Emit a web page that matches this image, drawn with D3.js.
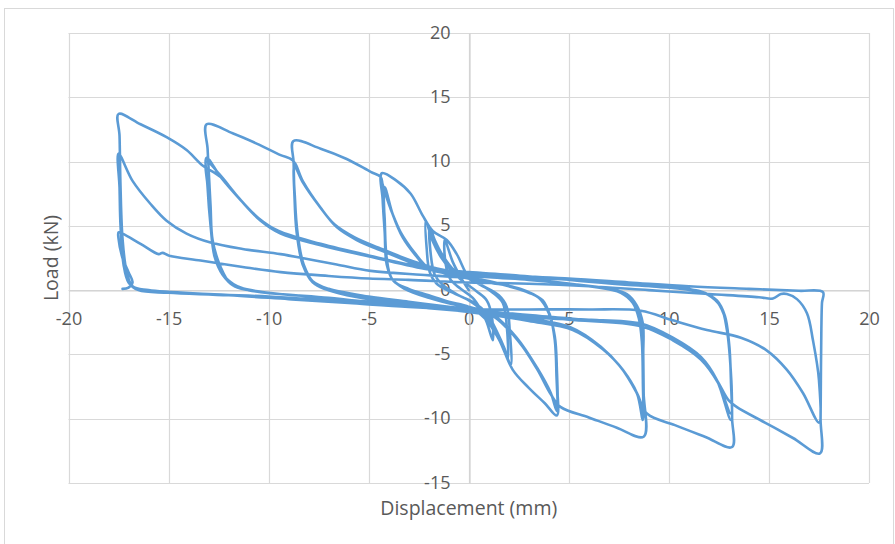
<!DOCTYPE html>
<html><head><meta charset="utf-8">
<script src="https://cdn.jsdelivr.net/npm/d3@7"></script>
<style>body{margin:0;background:#fff;}svg{display:block;}</style>
</head><body>
<svg id="chart" width="895" height="544"></svg>
<script>
const xTicks = [-20,-15,-10,-5,0,5,10,15,20];
const yTicks = [-15,-10,-5,0,5,10,15,20];
const xTitle = "Displacement (mm)";
const yTitle = "Load (kN)";

// Displacement (mm), Load (kN), in loading order
const smallCycles = [
[0,0],[-0.4,1.0],[-0.8,2.2],[-1.2,3.9],[-1.15,2.0],[-0.9,0.8],[-0.4,0.1],[0.2,-0.6],[0.6,-1.5],[0.9,-2.5],[1.2,-3.9],[1.15,-2.0],[0.9,-0.8],[0.4,-0.1],[-0.3,0.7],
[-0.8,1.4],[-1.4,2.6],[-1.8,3.8],[-2.15,5.4],[-2.1,3.2],[-1.95,1.4],[-1.6,0.5],[-0.8,-0.2],[0,-0.8],[0.6,-1.5],[1.2,-2.8],[1.7,-4.3],[2.1,-5.8],[2.05,-3.2],[1.9,-1.3],[1.5,-0.4],[0.6,0.4],[0,0.9],
[-0.7,1.5],[-1.3,2.7],[-1.7,3.9],[-1.95,4.9],[-1.9,2.8],[-1.7,1.2],[-1.3,0.4],[-0.5,-0.4],[0.3,-1.0],[0.9,-1.8],[1.4,-3.2],[1.8,-4.6],[1.95,-5.3],[1.9,-2.8],[1.7,-1.0],[1.2,-0.2],[0.5,0.5],[0,1.0]
];
const cycles4mm = [
[-0.6,2.8],[-1.1,3.9],[-1.8,4.6],[-2.3,5.8],[-2.9,7.5],[-3.6,8.5],[-4.34,9.1],[-4.3,7.0],[-4.2,4.5],[-4.1,2.0],[-3.75,0.7],[-3.0,0.1],[-2.0,-0.4],[-1.0,-0.9],[0,-1.3],
[0.8,-2.2],[1.5,-3.8],[2.2,-6.2],[3.0,-7.6],[3.8,-8.8],[4.4,-9.75],[4.42,-7.5],[4.35,-5.0],[4.3,-3.9],[4.1,-2.2],[3.7,-0.8],[3.0,-0.2],[2.0,0.3],[1.0,0.7],[0,1.0],[-1.0,1.4],
[-2.1,1.8],[-2.6,2.6],[-3.3,4.1],[-3.8,5.9],[-4.2,8.0],[-4.2,5.0],[-4.1,2.2],[-3.8,0.8],[-3.0,0.0],[-2.0,-0.5],[-1.0,-0.9],[0,-1.3],[0.6,-1.6],
[1.2,-1.9],[2.4,-3.7],[3.4,-6.0],[4.1,-8.0],[4.4,-9.4],[4.4,-6.0],[4.3,-3.6],[4.0,-1.8],[3.5,-0.6],[2.5,0.1],[1.5,0.5],[0,0.9],[-1.2,1.3],
[-2.0,1.7],[-2.7,2.9],[-3.4,4.5],[-3.9,6.3],[-4.25,7.7],[-4.2,5.5],[-4.1,2.5],[-3.85,0.9],[-3.2,0.1],[-2.0,-0.6],[-0.5,-1.2],[0.5,-1.5],
[1.3,-2.1],[2.5,-4.0],[3.5,-6.3],[4.15,-8.2],[4.4,-9.2],[4.38,-6.5],[4.3,-3.8],[4.05,-1.9],[3.6,-0.7],[2.6,0.1],[1.0,0.6],[0,0.9]
];
const cycles9mm = [
[-1.0,1.3],[-2.1,1.8],[-2.6,2.6],[-3.3,4.1],[-3.8,5.9],[-4.3,8.2],[-4.4,8.8],[-4.9,9.2],[-6.1,10.2],[-7.4,11.0],[-8.76,11.6],[-8.75,9.9],[-8.7,7.0],[-8.6,4.6],[-8.3,2.0],[-7.8,0.7],[-7.0,0.1],[-5.0,-0.5],[-3.0,-0.9],[-1.0,-1.3],[0.5,-1.6],
[1.2,-2.0],[2.4,-3.8],[3.4,-6.1],[4.1,-8.1],[4.6,-9.1],[6.0,-9.9],[7.4,-10.7],[8.74,-11.4],[8.74,-8.0],[8.72,-5.0],[8.7,-2.6],[8.4,-1.2],[7.9,-0.3],[7.0,0.1],[5.0,0.5],[3.0,0.8],[1.0,1.0],[-1.0,1.3],
[-2.2,1.9],[-3.3,2.5],[-4.4,3.1],[-5.6,3.9],[-6.6,4.9],[-7.4,6.4],[-8.3,8.5],[-8.7,9.9],[-8.7,7.0],[-8.6,4.5],[-8.3,2.0],[-7.8,0.6],[-7.0,0.0],[-5.0,-0.6],[-3.0,-1.0],[-1.0,-1.4],[1.0,-1.8],[3.0,-2.3],
[5.1,-2.9],[6.6,-4.4],[7.6,-6.0],[8.4,-8.0],[8.7,-10.1],[8.7,-7.0],[8.68,-4.5],[8.6,-2.5],[8.3,-1.1],[7.8,-0.3],[7.0,0.1],[5.0,0.5],[3.0,0.9],[1.0,1.2],[-1.0,1.5],
[-2.3,2.0],[-3.4,2.6],[-4.5,3.3],[-5.7,4.1],[-6.7,5.1],[-7.5,6.6],[-8.3,8.4],[-8.7,9.6],[-8.68,7.0],[-8.55,4.4],[-8.25,2.0],[-7.7,0.5],[-6.8,-0.1],[-5.0,-0.7],[-3.0,-1.1],[-1.0,-1.5],[1.0,-1.9],[3.0,-2.4],
[5.2,-3.1],[6.7,-4.6],[7.7,-6.2],[8.45,-8.2],[8.7,-9.8],[8.7,-7.0],[8.65,-4.0],[8.5,-2.2],[8.2,-1.0],[7.6,-0.2],[6.0,0.3],[4.0,0.7],[2.0,1.0],[0,1.3],[-2.0,1.6]
];
const cycles13mm = [
[-3.3,2.4],[-4.4,3.1],[-5.6,3.9],[-6.6,4.9],[-7.4,6.4],[-8.3,8.5],[-8.8,10.1],[-9.4,10.5],[-10.6,11.4],[-11.8,12.2],[-13.1,12.9],[-13.05,11.0],[-13.0,9.5],[-12.9,6.5],[-12.8,3.9],[-12.4,1.8],[-11.9,0.5],[-11.0,0.0],[-8.0,-0.5],[-5.0,-0.9],[-2.0,-1.3],[1.0,-1.7],[3.0,-2.2],
[5.1,-2.9],[6.6,-4.4],[7.6,-6.0],[8.4,-8.0],[8.9,-9.6],[10.3,-10.5],[11.8,-11.4],[13.16,-12.2],[13.16,-10.0],[13.12,-7.0],[12.9,-3.1],[12.6,-1.3],[11.9,-0.3],[11.0,0.1],[8.0,0.4],[5.0,0.8],[2.0,1.2],[0,1.4],[-2.0,1.7],
[-4.9,2.6],[-7.4,3.5],[-9.4,4.4],[-10.4,5.4],[-11.4,7.0],[-12.4,8.8],[-13.1,10.3],[-13.05,8.0],[-12.9,5.0],[-12.7,2.6],[-12.3,1.2],[-11.7,0.3],[-10.5,-0.1],[-8.0,-0.5],[-5.0,-1.0],[-2.0,-1.4],[1.0,-1.8],[4.0,-2.2],[6.0,-2.3],
[8.6,-2.6],[10.2,-3.7],[11.6,-5.2],[12.4,-7.0],[13.1,-10.1],[13.1,-7.0],[13.0,-4.0],[12.8,-2.0],[12.4,-0.8],[11.7,-0.2],[10.0,0.2],[7.0,0.6],[4.0,0.9],[1.0,1.3],[-2.0,1.7],
[-5.0,2.7],[-7.4,3.6],[-9.5,4.6],[-10.5,5.6],[-11.5,7.2],[-12.45,9.0],[-13.1,10.0],[-13.0,7.5],[-12.85,4.5],[-12.6,2.2],[-12.1,0.9],[-11.4,0.2],[-10.0,-0.2],[-7.0,-0.6],[-4.0,-1.1],[-1.0,-1.5],[2.0,-1.9],[5.0,-2.3],
[8.6,-2.8],[10.2,-3.9],[11.6,-5.4],[12.45,-7.2],[13.1,-9.6],[13.1,-7.0],[13.0,-4.0],[12.75,-1.9],[12.3,-0.7],[11.6,-0.1],[9.0,0.3],[6.0,0.7],[3.0,1.0],[0,1.3],[-2.0,1.6]
];
const cycles18mm = [
[-4.9,2.6],[-7.4,3.5],[-9.4,4.4],[-10.4,5.4],[-11.4,7.0],[-12.4,8.8],[-13.3,9.7],[-14.1,10.9],[-15.1,11.9],[-16.4,12.9],[-17.5,13.7],[-17.45,12.0],[-17.4,8.0],[-17.3,4.0],[-17.1,1.5],[-16.8,0.3],[-16.0,0.0],[-13.0,-0.3],[-10.0,-0.5],[-7.0,-0.8],[-4.0,-1.1],[-1.0,-1.4],[2.0,-1.8],[5.0,-2.2],[7.0,-2.4],
[8.6,-2.6],[10.2,-3.7],[11.6,-5.2],[12.4,-7.0],[13.0,-8.6],[13.4,-9.1],[14.8,-10.3],[16.2,-11.5],[17.55,-12.7],[17.58,-10.0],[17.6,-6.0],[17.62,-3.0],[17.65,-1.0],[17.7,-0.15],[16.5,-0.05],[14.0,0.1],[11.0,0.3],[8.0,0.6],[5.0,0.9],[2.0,1.1],
[0,1.0],[-2.4,1.2],[-4.9,1.5],[-6.6,2.0],[-8.0,2.4],[-9.4,2.8],[-11.3,3.2],[-12.9,3.7],[-14.1,4.4],[-15.1,5.4],[-15.9,6.7],[-16.8,8.5],[-17.5,10.6],[-17.45,8.0],[-17.4,5.0],[-17.25,2.0],[-17.0,0.6],[-16.5,0.0],[-15.0,-0.2],[-12.0,-0.4],[-9.0,-0.7],[-6.0,-1.0],[-3.0,-1.3],[0,-1.5],[3.0,-1.5],[6.0,-1.5],
[8.6,-1.6],[10.2,-2.35],[11.9,-3.1],[13.6,-3.7],[14.9,-4.7],[15.9,-6.2],[16.7,-8.0],[17.5,-10.3],[17.5,-7.0],[17.2,-3.9],[16.9,-1.8],[16.4,-0.7],[15.9,-0.3],[15.6,-0.3],[15.2,-0.65],[14.5,-0.55],[12.0,-0.3],[9.0,0.0],[6.0,0.3],[3.0,0.5],[0,0.6],[-3.0,0.8],
[-5.0,0.9],[-7.0,1.1],[-9.4,1.4],[-11.3,1.8],[-13.4,2.3],[-15.0,2.7],[-15.3,2.9],[-15.5,2.8],[-16.4,3.6],[-17.3,4.4],[-17.5,4.5],[-17.5,4.0],[-17.3,2.5],[-17.0,1.4],[-16.8,0.6],[-17.0,0.2],[-17.3,0.1]
];

const W = 895, H = 544;
const plot = {left: 68.5, right: 869, top: 33, bottom: 483};
const svg = d3.select("#chart");

// outer chart border
svg.append("rect").attr("x",4.5).attr("y",8.5).attr("width",W-6).attr("height",H-6)
  .attr("fill","#fff").attr("stroke","#d9d9d9").attr("stroke-width",1);

const x = d3.scaleLinear().domain([-20,20]).range([plot.left, plot.right]);
const y = d3.scaleLinear().domain([-15,20]).range([plot.bottom, plot.top]);

// gridlines
const grid = svg.append("g").attr("stroke","#d9d9d9").attr("stroke-width",1.2);
grid.selectAll("line.v").data(xTicks).join("line")
  .attr("x1",d=>Math.round(x(d))+0.5).attr("x2",d=>Math.round(x(d))+0.5)
  .attr("y1",y(20)).attr("y2",y(-15));
grid.selectAll("line.h").data(yTicks).join("line")
  .attr("y1",d=>Math.round(y(d))+0.5).attr("y2",d=>Math.round(y(d))+0.5)
  .attr("x1",x(-20)).attr("x2",x(20));

// axes through the origin
const font = "'Open Sans', 'Liberation Sans', sans-serif";
const fmt = d => String(d);
const xAxis = d3.axisBottom(x).tickValues(xTicks).tickSize(0).tickFormat(fmt);
const yAxis = d3.axisLeft(y).tickValues(yTicks).tickSize(0).tickFormat(fmt);
const gx = svg.append("g").attr("transform",`translate(0,${Math.round(y(0))+0.5})`).call(xAxis);
const gy = svg.append("g").attr("transform",`translate(${Math.round(x(0))+0.5},0)`).call(yAxis);
[gx,gy].forEach(g=>{
  g.select(".domain").attr("stroke","#d0d0d0").attr("stroke-width",1.2);
  g.selectAll("text").attr("fill","#595959").style("font-family",font).style("font-size","18px");
});
gx.selectAll("text").attr("dy","0.35em").attr("y",28);
gy.selectAll("text").attr("x",-19).attr("dy","0.28em");

// series
const allPoints = [].concat(smallCycles, cycles4mm, cycles9mm, cycles13mm, cycles18mm);
const line = d3.line().x(d=>x(d[0])).y(d=>y(d[1])).curve(d3.curveCatmullRom.alpha(0.5));
svg.append("path").datum(allPoints).attr("d",line)
  .attr("fill","none").attr("stroke","#5b9bd5").attr("stroke-width",2.6)
  .attr("stroke-linejoin","round").attr("stroke-linecap","round");

// titles
svg.append("text").attr("x",(plot.left+plot.right)/2).attr("y",508).attr("dy","0.35em")
  .attr("text-anchor","middle").attr("fill","#595959").style("font-family",font).style("font-size","19.5px")
  .text(xTitle);
svg.append("text").attr("transform",`translate(51,${(plot.top+plot.bottom)/2}) rotate(-90)`).attr("dy","0.35em")
  .attr("text-anchor","middle").attr("fill","#595959").style("font-family",font).style("font-size","19.5px")
  .text(yTitle);
</script>
</body></html>
